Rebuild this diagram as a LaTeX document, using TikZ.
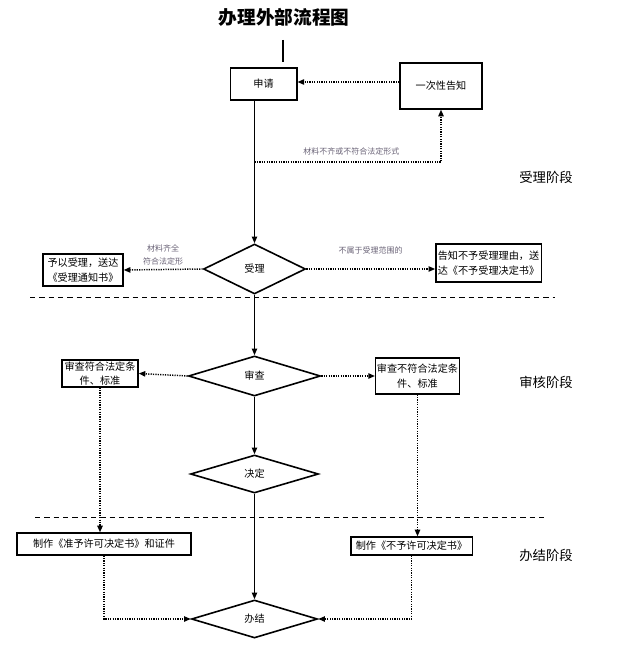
\documentclass[tikz,border=0pt]{standalone}
\usepackage{fontspec}
\newfontfamily\cjk{Noto Sans CJK SC}
\usetikzlibrary{shapes.geometric,arrows.meta}

\tikzset{every picture/.style={line width=0.75pt}}
\tikzset{
  box/.style={draw, line width=1pt, inner sep=1pt, align=center, font=\cjk\fontsize{7.6}{11}\selectfont},
  decide/.style={diamond, draw, line width=1.2pt, inner sep=0pt, font=\cjk\fontsize{7.6}{10}\selectfont},
  note/.style={inner sep=0.75pt, align=center, text={rgb,255:red,105;green,98;blue,118}, font=\cjk\fontsize{6}{9.5}\selectfont},
  phase/.style={inner sep=0.75pt, font=\cjk\fontsize{10}{12}\selectfont},
  flow/.style={line width=1pt, -{Triangle[length=5pt,width=4pt]}},
  dotflow/.style={line width=1.1pt, dash pattern={on 0.9pt off 0.9pt}, -{Triangle[length=5pt,width=4pt]}},
  stage/.style={line width=0.75pt, dash pattern={on 4pt off 3pt}}
}

\begin{document}
\begin{tikzpicture}[x=0.75pt,y=0.75pt,yscale=-1,xscale=1]
\useasboundingbox (0,0) rectangle (623,663);

% Title
\node (title) at (284,17) [inner sep=0.75pt, font=\cjk\bfseries\fontsize{14}{16}\selectfont] {办理外部流程图};
\draw [line width=1.6pt] (283,40) -- (283,62);

%Shape: boxes
\node (shenqing) at (263.5,84) [box, minimum width=50pt, minimum height=24pt] {申请};
\node (gaozhi) at (441,86) [box, minimum width=61.5pt, minimum height=34.5pt] {一次性告知};
\node (accept) at (83,270) [box, minimum width=60pt, minimum height=24pt] {予以受理，送达\\《受理通知书》};
\node (refuse) at (488.5,263) [box, minimum width=79pt, minimum height=28.5pt, align=left] {告知不予受理理由，送\\达《不予受理决定书》};
\node (pass) at (100,373.5) [box, minimum width=57pt, minimum height=20pt] {审查符合法定条\\件、标准};
\node (fail) at (417.5,376) [box, minimum width=59pt, minimum height=27pt] {审查不符合法定条\\件、标准};
\node (permit) at (104,544) [box, minimum width=130.5pt, minimum height=16.5pt] {制作《准予许可决定书》和证件};
\node (deny) at (411.5,546) [box, minimum width=91pt, minimum height=13.5pt] {制作《不予许可决定书》};

%Shape: diamonds
\node (shouli) at (254.5,269) [decide, minimum width=76.5pt, minimum height=37.5pt] {受理};
\node (shencha) at (254.5,376) [decide, minimum width=99pt, minimum height=30pt] {审查};
\node (jueding) at (254.5,474) [decide, minimum width=96pt, minimum height=28.5pt] {决定};
\node (banjie) at (254.5,619) [decide, minimum width=94.5pt, minimum height=28.5pt] {办结};

% Text Node
\node (ph1) at (546,177) [phase] {受理阶段};
\node (ph2) at (546,382) [phase] {审核阶段};
\node (ph3) at (546,555) [phase] {办结阶段};

%Straight Lines: stage borders
\draw [stage] (30,297) -- (555,297);
\draw [stage] (35,517) -- (548,517);

%Connectors
\coordinate (split) at (254.5,162);
\draw [flow] (shouli.north |- shenqing.south) -- (shouli.north);
\draw [dotflow] (split) -| (gaozhi.south) node [note, pos=0.26, above=4pt] {材料不齐或不符合法定形式};
\draw [dotflow] ([yshift=-3pt]gaozhi.west) -- ([yshift=-3pt]gaozhi.west -| shenqing.east);
\draw [dotflow] (shouli.west) -- (accept.east) node [note, midway, above=2pt] {材料齐全\\符合法定形};
\draw [dotflow] (shouli.east) -- (shouli.east -| refuse.west) node [note, midway, above=10pt] {不属于受理范围的};
\draw [flow] (shouli.south) -- (shencha.north);
\draw [dotflow] (shencha.west) -- (pass.east);
\draw [dotflow] (shencha.east) -- (fail.west);
\draw [flow] (shencha.south) -- (jueding.north);
\draw [flow] (jueding.south) -- (banjie.north);
\draw [dotflow] (pass.south) -- (pass.south |- permit.north);
\draw [dotflow] (fail.south) -- (fail.south |- deny.north);
\draw [dotflow] (permit.south) |- (banjie.west);
\draw [dotflow] (deny.south) |- (banjie.east);

\end{tikzpicture}
\end{document}
